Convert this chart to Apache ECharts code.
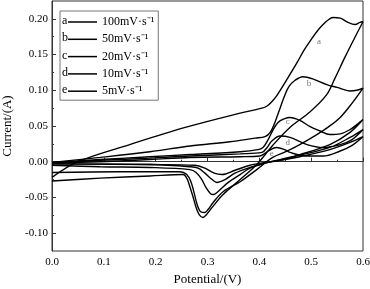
<!DOCTYPE html>
<html>
<head>
<meta charset="utf-8">
<script src="https://cdn.jsdelivr.net/npm/echarts@6/dist/echarts.min.js"></script>
<style>
html,body{margin:0;padding:0;background:#fff}
#cv{width:370px;height:289px}
</style>
</head>
<body>
<div id="cv"></div>
<script>
// scan rates (legend) and curve letters
var rates = ['100mV·s⁻¹', '50mV·s⁻¹', '20mV·s⁻¹', '10mV·s⁻¹', '5mV·s⁻¹'];
var letters = ['a', 'b', 'c', 'd', 'e'];

// [potential V, current A], forward sweep 0 -> 0.6 then reverse 0.6 -> 0
var aFwd = [[0,-0.022],[0.050,0.000],[0.150,0.024],[0.257,0.048],[0.363,0.068],[0.405,0.075],[0.415,0.078],
  [0.424,0.084],[0.434,0.093],[0.453,0.115],[0.473,0.139],[0.486,0.156],[0.500,0.171],[0.513,0.184],
  [0.523,0.192],[0.532,0.198],[0.542,0.202],[0.556,0.201],[0.571,0.195],[0.585,0.192],[0.594,0.195],[0.600,0.196]];
var aRev = [[0.585,0.175],[0.565,0.146],[0.546,0.117],[0.530,0.094],[0.498,0.070],[0.459,0.048],[0.426,0.023],
  [0.395,-0.004],[0.363,-0.025],[0.330,-0.046],[0.309,-0.064],[0.297,-0.075],[0.291,-0.078],[0.284,-0.074],
  [0.278,-0.064],[0.272,-0.049],[0.266,-0.035],[0.260,-0.023],[0.253,-0.018],[0.189,-0.020],[0.093,-0.023],[0,-0.027]];

var bFwd = [[0,-0.001],[0.093,0.006],[0.189,0.014],[0.266,0.022],[0.343,0.028],[0.392,0.033],[0.411,0.035],
  [0.421,0.041],[0.430,0.055],[0.440,0.075],[0.448,0.091],[0.457,0.105],[0.469,0.114],[0.484,0.119],
  [0.503,0.116],[0.530,0.108],[0.550,0.104],[0.575,0.099],[0.588,0.100],[0.600,0.103]];
var bRev = [[0.579,0.082],[0.556,0.062],[0.532,0.048],[0.511,0.038],[0.478,0.024],[0.451,0.014],[0.426,0.006],
  [0.395,-0.011],[0.363,-0.028],[0.330,-0.042],[0.311,-0.057],[0.301,-0.067],[0.295,-0.071],[0.287,-0.070],
  [0.280,-0.060],[0.274,-0.043],[0.268,-0.028],[0.260,-0.018],[0.247,-0.014],[0.131,-0.014],[0,-0.015]];

var cFwd = [[0,-0.001],[0.093,0.003],[0.189,0.007],[0.266,0.010],[0.363,0.014],[0.397,0.017],[0.407,0.020],
  [0.417,0.031],[0.426,0.044],[0.436,0.055],[0.448,0.060],[0.459,0.062],[0.478,0.058],[0.498,0.049],
  [0.517,0.043],[0.536,0.038],[0.556,0.039],[0.575,0.045],[0.588,0.052],[0.600,0.059]];
var cRev = [[0.575,0.041],[0.536,0.024],[0.478,0.010],[0.440,0.003],[0.411,-0.002],[0.382,-0.009],[0.363,-0.018],
  [0.340,-0.029],[0.320,-0.042],[0.311,-0.046],[0.305,-0.044],[0.297,-0.036],[0.289,-0.025],[0.278,-0.015],
  [0.266,-0.011],[0.189,-0.008],[0.093,-0.007],[0,-0.005]];

var dFwd = [[0,-0.002],[0.093,0.002],[0.189,0.005],[0.266,0.008],[0.363,0.011],[0.405,0.013],[0.415,0.020],
  [0.424,0.029],[0.440,0.036],[0.459,0.034],[0.492,0.024],[0.523,0.020],[0.556,0.024],[0.579,0.031],[0.600,0.045]];
var dRev = [[0.575,0.034],[0.536,0.020],[0.478,0.009],[0.440,0.002],[0.411,-0.002],[0.382,-0.008],[0.353,-0.016],
  [0.334,-0.025],[0.318,-0.029],[0.309,-0.025],[0.295,-0.016],[0.282,-0.009],[0.266,-0.007],[0.189,-0.004],[0,-0.003]];

var eFwd = [[0,-0.002],[0.093,0.000],[0.189,0.003],[0.266,0.006],[0.363,0.007],[0.401,0.008],[0.417,0.015],
  [0.433,0.020],[0.449,0.017],[0.459,0.013],[0.492,0.008],[0.523,0.008],[0.556,0.015],[0.579,0.023],[0.600,0.035]];
var eRev = [[0.575,0.027],[0.536,0.017],[0.478,0.007],[0.440,0.002],[0.411,-0.001],[0.382,-0.005],[0.353,-0.012],
  [0.328,-0.018],[0.313,-0.016],[0.295,-0.009],[0.276,-0.005],[0.189,-0.004],[0,-0.003]];

// where the letters sit on the curves
var letterPts = [[0.515,0.168],[0.496,0.110],[0.455,0.056],[0.455,0.027],[0.424,0.011]];

// y axis ticks (axis runs -0.125 .. 0.225)
var yTicks = [-0.10, -0.05, 0, 0.05, 0.10, 0.15, 0.20];
var yMinor = [-0.075, -0.025, 0.025, 0.075, 0.125, 0.175];

var serif = "'Liberation Serif', 'Times New Roman', serif";
var curves = [aFwd.concat(aRev), bFwd.concat(bRev), cFwd.concat(cRev), dFwd.concat(dRev), eFwd.concat(eRev)];

var series = [];
for (var i = 0; i < curves.length; i++) {
  series.push({
    name: rates[i],
    type: 'line',
    data: curves[i],
    smooth: 0.35,
    showSymbol: false,
    symbol: 'none',
    lineStyle: {color: '#000', width: 1.4},
    itemStyle: {color: '#000'}
  });
}
// small grey letters on the curves
series.push({
  type: 'scatter',
  data: letterPts.map(function (p, k) { return {value: p, name: letters[k]}; }),
  symbolSize: 1,
  itemStyle: {color: 'rgba(0,0,0,0)'},
  silent: true,
  z: 10,
  labelLayout: {hideOverlap: false},
  label: {show: true, position: 'inside', formatter: '{b}', color: '#555', fontSize: 9, fontFamily: serif}
});

// legend geometry
var legLeft = 60, legTop = 11, padTop = 5, rowH = 12, rowGap = 5.3;
var graphics = letters.map(function (l, k) {
  return {
    type: 'text',
    left: legLeft + 2,
    top: legTop + padTop + k * (rowH + rowGap) - 1,
    style: {text: l, font: '12px ' + serif, fill: '#000'}
  };
});

var chart = echarts.init(document.getElementById('cv'));
chart.setOption({
  animation: false,
  grid: {left: 52, right: 7, top: 1, bottom: 38, outerBoundsMode: 'none', containLabel: false,
    show: true, borderColor: '#333', borderWidth: 1, backgroundColor: 'transparent'},
  legend: {
    data: rates,
    orient: 'vertical',
    left: legLeft,
    top: legTop,
    padding: [padTop, 4, 3, 8],
    itemGap: rowGap,
    itemWidth: 29,
    itemHeight: 1.5,
    icon: 'rect',
    borderColor: '#777',
    borderWidth: 1,
    textStyle: {fontFamily: serif, fontSize: 12, color: '#000', lineHeight: rowH}
  },
  graphic: graphics,
  xAxis: {
    type: 'value',
    min: 0, max: 0.6, interval: 0.1,
    name: 'Potential/(V)', nameLocation: 'middle', nameGap: 22,
    nameTextStyle: {fontFamily: serif, fontSize: 13, color: '#000'},
    axisLine: {lineStyle: {color: '#333'}},
    axisTick: {inside: true, length: 4, lineStyle: {color: '#333'}},
    minorTick: {show: true, splitNumber: 2, length: 2, lineStyle: {color: '#333'}},
    axisLabel: {fontFamily: serif, fontSize: 11, color: '#000', margin: 6, formatter: function (v) { return v.toFixed(1); }},
    splitLine: {show: false}
  },
  yAxis: [{
    type: 'value',
    min: -0.125, max: 0.225,
    name: 'Current/(A)', nameLocation: 'middle', nameGap: 38,
    nameTextStyle: {fontFamily: serif, fontSize: 13, color: '#000'},
    axisLine: {show: true, lineStyle: {color: '#333'}},
    axisTick: {inside: true, length: 4, customValues: yTicks, lineStyle: {color: '#333'}},
    axisLabel: {fontFamily: serif, fontSize: 11, color: '#000', margin: 4, customValues: yTicks,
      formatter: function (v) { return v.toFixed(2); }},
    splitLine: {show: false}
  }, {
    type: 'value',
    min: -0.125, max: 0.225,
    position: 'left',
    axisLine: {show: false},
    axisTick: {show: true, inside: true, length: 2, customValues: yMinor, lineStyle: {color: '#333'}},
    axisLabel: {show: false},
    splitLine: {show: false}
  }],
  series: series
});
</script>
</body>
</html>
